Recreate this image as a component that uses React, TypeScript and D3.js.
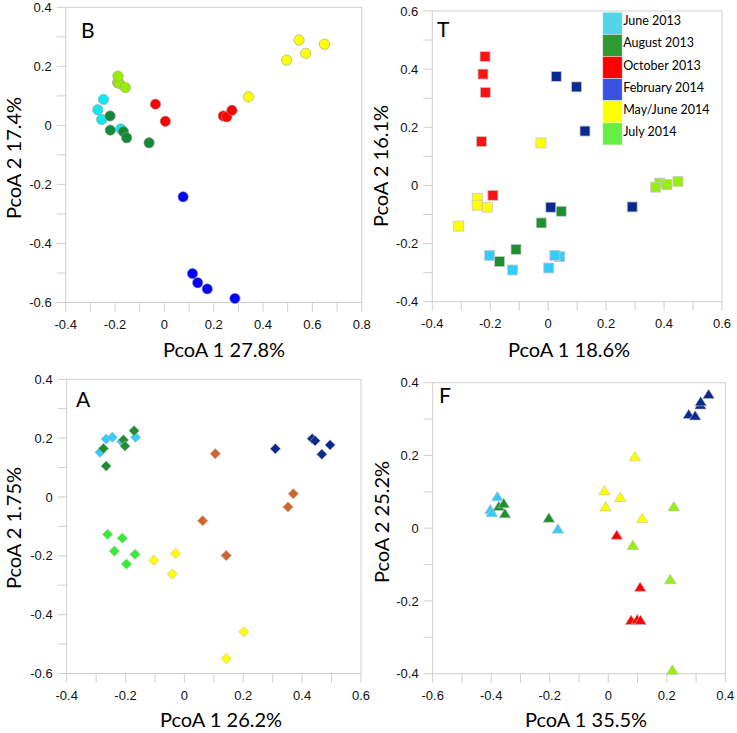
import * as d3 from 'd3';

// Four PCoA scatter panels (B, T, A, F), one marker shape per panel,
// six sampling dates coloured per panel palette.

const groups = ['June 2013', 'August 2013', 'October 2013', 'February 2014', 'May/June 2014', 'July 2014'];

// [groupIndex, PcoA1, PcoA2]
type Pt = [number, number, number];

const pointsB: Pt[] = [
  [4, 0.496, 0.221], [4, 0.546, 0.289], [4, 0.573, 0.244], [4, 0.649, 0.275], [4, 0.341, 0.097],
  [2, -0.036, 0.072], [2, 0.004, 0.014], [2, 0.239, 0.032], [2, 0.253, 0.029], [2, 0.274, 0.051],
  [5, -0.19, 0.145], [5, -0.182, 0.142], [5, -0.188, 0.167], [5, -0.158, 0.128],
  [0, -0.247, 0.088], [0, -0.27, 0.053], [0, -0.254, 0.02], [0, -0.177, -0.012],
  [1, -0.22, 0.032], [1, -0.219, -0.016], [1, -0.166, -0.021], [1, -0.153, -0.042], [1, -0.062, -0.059],
  [3, 0.076, -0.242], [3, 0.114, -0.502], [3, 0.135, -0.533], [3, 0.174, -0.554], [3, 0.286, -0.586],
];

const pointsT: Pt[] = [
  [2, -0.218, 0.443], [2, -0.225, 0.383], [2, -0.217, 0.32], [2, -0.23, 0.151], [2, -0.191, -0.034],
  [3, 0.028, 0.375], [3, 0.098, 0.339], [3, 0.127, 0.187], [3, 0.009, -0.075], [3, 0.29, -0.074],
  [4, -0.025, 0.146], [4, -0.245, -0.045], [4, -0.245, -0.068], [4, -0.21, -0.075], [4, -0.309, -0.14],
  [5, 0.385, 0.008], [5, 0.41, 0.003], [5, 0.448, 0.014], [5, 0.371, -0.006],
  [1, -0.024, -0.129], [1, 0.045, -0.089], [1, -0.111, -0.22], [1, -0.168, -0.262],
  [0, -0.202, -0.241], [0, -0.123, -0.291], [0, 0.002, -0.284], [0, 0.04, -0.245], [0, 0.023, -0.241],
];

const pointsA: Pt[] = [
  [0, -0.287, 0.152], [0, -0.266, 0.197], [0, -0.245, 0.203], [0, -0.166, 0.203],
  [1, -0.275, 0.165], [1, -0.266, 0.105], [1, -0.171, 0.225],
  [0, -0.213, 0.188], [1, -0.207, 0.194], [1, -0.202, 0.173],
  [5, -0.261, -0.127], [5, -0.211, -0.14], [5, -0.238, -0.184], [5, -0.197, -0.228], [5, -0.168, -0.195],
  [4, -0.104, -0.215], [4, -0.03, -0.192], [4, -0.041, -0.262], [4, 0.202, -0.458], [4, 0.142, -0.549],
  [2, 0.105, 0.147], [2, 0.062, -0.081], [2, 0.142, -0.199], [2, 0.352, -0.034], [2, 0.37, 0.011],
  [3, 0.309, 0.164], [3, 0.434, 0.198], [3, 0.444, 0.191], [3, 0.467, 0.145], [3, 0.495, 0.177],
];

const pointsF: Pt[] = [
  [3, 0.275, 0.313], [3, 0.297, 0.309], [3, 0.315, 0.339], [3, 0.316, 0.348], [3, 0.343, 0.368],
  [4, 0.091, 0.197], [4, -0.013, 0.103], [4, 0.041, 0.085], [4, -0.009, 0.059], [4, 0.116, 0.027],
  [5, 0.224, 0.059], [5, 0.084, -0.047], [5, 0.212, -0.141], [5, 0.219, -0.39],
  [2, 0.029, -0.019], [2, 0.109, -0.162], [2, 0.078, -0.253], [2, 0.099, -0.251], [2, 0.11, -0.253],
  [0, -0.379, 0.087], [0, -0.403, 0.051], [0, -0.398, 0.043], [0, -0.172, -0.002],
  [1, -0.374, 0.06], [1, -0.357, 0.068], [1, -0.353, 0.04], [1, -0.203, 0.028],
];

const paletteB = ['#10E8F0', '#15893A', '#FF0000', '#0000FF', '#FFFF00', '#99EE00'];
const paletteT = ['#33CCFF', '#1E8F2E', '#FF1111', '#0A2A8F', '#FFFF00', '#99EE11'];
const paletteA = ['#33CCFF', '#1E8F2E', '#D2642A', '#0A2A8F', '#FFFF00', '#33EE33'];
const paletteF = ['#33CCFF', '#1E8F2E', '#FF0000', '#0A2A8F', '#FFFF00', '#99EE11'];
const legendColors = ['#50D6E8', '#2E9A34', '#FF0000', '#3A52E0', '#FFFF00', '#66EE44'];

const LABEL_FONT = 'Lato, "Open Sans", sans-serif';
const TICK_FONT = '"Liberation Sans", Arial, sans-serif';
const AXIS_GRAY = '#cfcfcf';

type Shape = 'circle' | 'square' | 'diamond' | 'triangle';

type PanelProps = {
  letter: string;
  letterPos: [number, number];
  box: { left: number; right: number; top: number; bottom: number };
  xDomain: [number, number];
  yDomain: [number, number];
  xLabel: string;
  yLabel: string;
  xLabelPos: [number, number];
  yLabelPos: [number, number];
  points: Pt[];
  palette: string[];
  shape: Shape;
};

const fmt = (v: number) => (Math.abs(v) < 1e-9 ? '0' : v.toFixed(1));

function Marker({ shape, x, y, fill }: { shape: Shape; x: number; y: number; fill: string }) {
  if (shape === 'circle') {
    return <circle cx={x} cy={y} r={5.2} fill={fill} stroke="#9a9a9a" strokeWidth={0.6} />;
  }
  if (shape === 'square') {
    return <rect x={x - 5} y={y - 5} width={10} height={10} fill={fill} stroke="#c8c8c8" strokeWidth={0.8} />;
  }
  if (shape === 'diamond') {
    const s = 5.2;
    return (
      <path d={`M${x},${y - s}L${x + s},${y}L${x},${y + s}L${x - s},${y}Z`} fill={fill} stroke="#bdbdbd" strokeWidth={0.6} />
    );
  }
  const w = 5.8;
  return (
    <path d={`M${x},${y - 5.2}L${x + w},${y + 4.2}L${x - w},${y + 4.2}Z`} fill={fill} stroke="#bdbdbd" strokeWidth={0.6} />
  );
}

function Panel(p: PanelProps) {
  const { box } = p;
  const x = d3.scaleLinear().domain(p.xDomain).range([box.left, box.right]);
  const y = d3.scaleLinear().domain(p.yDomain).range([box.bottom, box.top]);
  const steps = (d: [number, number]) => d3.range(0, Math.round((d[1] - d[0]) / 0.1) + 1).map((i) => d[0] + i * 0.1);
  const xTicks = steps(p.xDomain);
  const yTicks = steps(p.yDomain);
  const isMajor = (v: number, d0: number) => Math.round((v - d0) / 0.1) % 2 === 0;

  return (
    <g>
      <rect
        x={box.left} y={box.top}
        width={box.right - box.left} height={box.bottom - box.top}
        fill="none" stroke={AXIS_GRAY} strokeWidth={1}
      />
      {xTicks.map((v, i) => (
        <g key={`x${i}`}>
          <line x1={x(v)} x2={x(v)} y1={box.bottom} y2={box.bottom + 9} stroke={AXIS_GRAY} />
          {isMajor(v, p.xDomain[0]) && (
            <text x={x(v)} y={box.bottom + 26} textAnchor="middle" fontFamily={TICK_FONT} fontSize={13} fill="#111">
              {fmt(v)}
            </text>
          )}
        </g>
      ))}
      {yTicks.map((v, i) => (
        <g key={`y${i}`}>
          <line x1={box.left - 9} x2={box.left} y1={y(v)} y2={y(v)} stroke={AXIS_GRAY} />
          {isMajor(v, p.yDomain[0]) && (
            <text x={box.left - 14} y={y(v)} dy="0.35em" textAnchor="end" fontFamily={TICK_FONT} fontSize={13} fill="#111">
              {fmt(v)}
            </text>
          )}
        </g>
      ))}
      <text x={p.letterPos[0]} y={p.letterPos[1]} fontFamily={LABEL_FONT} fontSize={21} fill="#000">
        {p.letter}
      </text>
      {p.points.map(([g, vx, vy], i) => (
        <Marker key={i} shape={p.shape} x={x(vx)} y={y(vy)} fill={p.palette[g]} />
      ))}
      <text x={p.xLabelPos[0]} y={p.xLabelPos[1]} textAnchor="middle" fontFamily={LABEL_FONT} fontSize={20} fill="#000">
        {p.xLabel}
      </text>
      <text
        transform={`translate(${p.yLabelPos[0]},${p.yLabelPos[1]}) rotate(-90)`}
        textAnchor="middle" dy="0.35em" fontFamily={LABEL_FONT} fontSize={20} fill="#000"
      >
        {p.yLabel}
      </text>
    </g>
  );
}

function Legend({ left, top, rowH }: { left: number; top: number; rowH: number }) {
  return (
    <g>
      {groups.map((g, i) => (
        <g key={g}>
          <rect x={left} y={top + i * rowH} width={19.5} height={rowH} fill={legendColors[i]} stroke="#ffffff" strokeOpacity={0.5} strokeWidth={0.8} />
          <text x={left + 20.5} y={top + i * rowH + 13} fontFamily={LABEL_FONT} fontSize={12.5} fill="#000">
            {g}
          </text>
        </g>
      ))}
    </g>
  );
}

export default function App() {
  return (
    <svg width={737} height={733} style={{ position: 'absolute', left: 0, top: 0, background: '#fff' }}>
      <rect width={737} height={733} fill="#fff" />
      <Panel
        letter="B" letterPos={[81, 38]}
        box={{ left: 65.7, right: 361.7, top: 7.3, bottom: 302.5 }}
        xDomain={[-0.4, 0.8]} yDomain={[-0.6, 0.4]}
        xLabel="PcoA 1 27.8%" yLabel="PcoA 2 17.4%"
        xLabelPos={[224, 357]} yLabelPos={[14, 158]}
        points={pointsB} palette={paletteB} shape="circle"
      />
      <Panel
        letter="T" letterPos={[437, 37]}
        box={{ left: 432.3, right: 722, top: 11, bottom: 301.7 }}
        xDomain={[-0.4, 0.6]} yDomain={[-0.4, 0.6]}
        xLabel="PcoA 1 18.6%" yLabel="PcoA 2 16.1%"
        xLabelPos={[569, 357]} yLabelPos={[381, 166]}
        points={pointsT} palette={paletteT} shape="square"
      />
      <Panel
        letter="A" letterPos={[76, 407]}
        box={{ left: 66.7, right: 361, top: 379.3, bottom: 673.5 }}
        xDomain={[-0.4, 0.6]} yDomain={[-0.6, 0.4]}
        xLabel="PcoA 1 26.2%" yLabel="PcoA 2 1.75%"
        xLabelPos={[221, 727]} yLabelPos={[14, 528]}
        points={pointsA} palette={paletteA} shape="diamond"
      />
      <Panel
        letter="F" letterPos={[439, 403]}
        box={{ left: 432.7, right: 725.3, top: 382.7, bottom: 673.7 }}
        xDomain={[-0.6, 0.4]} yDomain={[-0.4, 0.4]}
        xLabel="PcoA 1 35.5%" yLabel="PcoA 2 25.2%"
        xLabelPos={[586, 727]} yLabelPos={[382, 522]}
        points={pointsF} palette={paletteF} shape="triangle"
      />
      <Legend left={602.7} top={12.3} rowH={22.1} />
    </svg>
  );
}
